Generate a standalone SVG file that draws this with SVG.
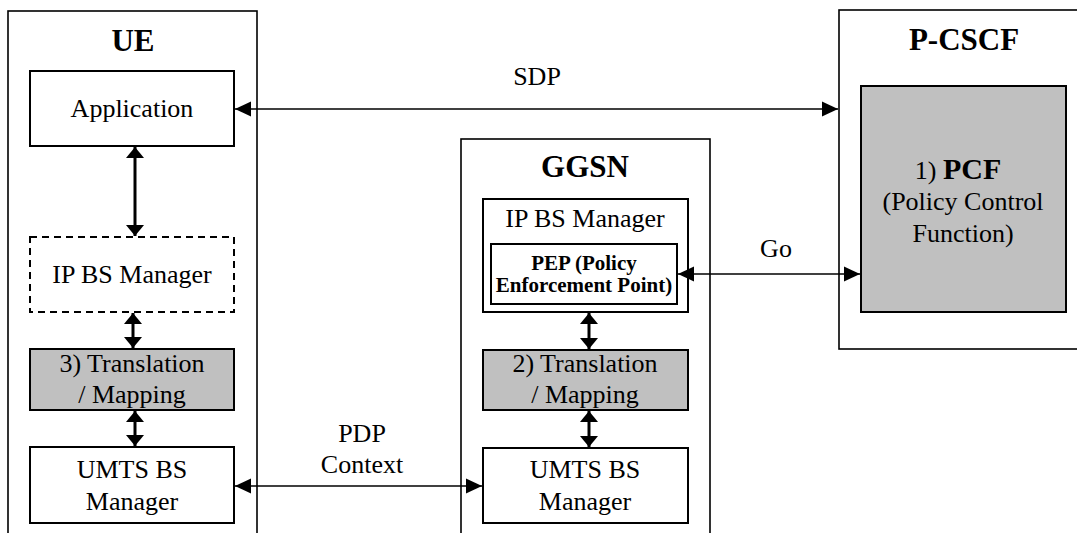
<svg xmlns="http://www.w3.org/2000/svg" width="1077" height="533" viewBox="0 0 1077 533">
<style>
.box{fill:#fff;stroke:#000;stroke-width:2}
.outer{fill:#fff;stroke:#000;stroke-width:1.6}
.gray{fill:#c0c0c0;stroke:#000;stroke-width:2}
.dash{fill:#fff;stroke:#000;stroke-width:2;stroke-dasharray:7,5}
text{font-family:'Liberation Serif','Times New Roman',serif;fill:#000;text-anchor:middle}
.t{font-size:26px}
.title{font-size:31px;font-weight:bold}
.pep{font-size:21px;font-weight:bold}
.thin{stroke:#000;stroke-width:1.6;fill:none;marker-start:url(#ah);marker-end:url(#ah)}
.thick{stroke:#000;stroke-width:3;fill:none;marker-start:url(#ahb);marker-end:url(#ahb)}
</style>
<defs>
<marker id="ah" markerUnits="userSpaceOnUse" viewBox="0 0 16 16" markerWidth="16" markerHeight="16" refX="16" refY="8" orient="auto-start-reverse"><path d="M0,0.5 L16,8 L0,15.5 z" fill="#000"/></marker>
<marker id="ahb" markerUnits="userSpaceOnUse" viewBox="0 0 11 18" markerWidth="11" markerHeight="18" refX="11" refY="9" orient="auto-start-reverse"><path d="M0,0 L11,9 L0,18 z" fill="#000"/></marker>
</defs>

<g id="ue">
<rect class="outer" x="8" y="11" width="249" height="540"/>
<text class="title" x="133" y="51">UE</text>
</g>
<g id="ue-application">
<rect class="box" x="30" y="71" width="204" height="75"/>
<text class="t" x="132" y="117">Application</text>
</g>
<g id="ue-ipbs">
<rect class="dash" x="30" y="237" width="204" height="75"/>
<text class="t" x="132" y="283">IP BS Manager</text>
</g>
<g id="ue-translation">
<rect class="gray" x="30" y="349" width="204" height="61"/>
<text class="t" x="132" y="372">3) Translation</text>
<text class="t" x="132" y="403">/ Mapping</text>
</g>
<g id="ue-umts">
<rect class="box" x="30" y="447" width="204" height="76"/>
<text class="t" x="132" y="478">UMTS BS</text>
<text class="t" x="132" y="510">Manager</text>
</g>

<g id="ggsn">
<rect class="outer" x="461" y="139" width="249" height="410"/>
<text class="title" x="585" y="177">GGSN</text>
</g>
<g id="ggsn-ipbs">
<rect class="box" x="483" y="199" width="205" height="113"/>
<text class="t" x="585" y="227">IP BS Manager</text>
</g>
<g id="ggsn-pep">
<rect class="box" x="491" y="244" width="186" height="60"/>
<text class="pep" x="584" y="270">PEP (Policy</text>
<text class="pep" x="584" y="292">Enforcement Point)</text>
</g>
<g id="ggsn-translation">
<rect class="gray" x="483" y="350" width="205" height="60"/>
<text class="t" x="585" y="372">2) Translation</text>
<text class="t" x="585" y="403">/ Mapping</text>
</g>
<g id="ggsn-umts">
<rect class="box" x="483" y="448" width="205" height="75"/>
<text class="t" x="585" y="478">UMTS BS</text>
<text class="t" x="585" y="510">Manager</text>
</g>

<g id="pcscf">
<rect class="outer" x="839" y="10" width="250" height="339"/>
<text class="title" x="964" y="50">P-CSCF</text>
</g>
<g id="pcf">
<rect class="gray" x="861" y="86" width="205" height="226"/>
<text class="t" x="958" y="179"><tspan>1) </tspan><tspan font-weight="bold" font-size="30">PCF</tspan></text>
<text class="t" x="963" y="210">(Policy Control</text>
<text class="t" x="963" y="242">Function)</text>
</g>

<g id="connectors">
<line class="thin" x1="235" y1="109" x2="838" y2="109"/>
<text class="t" x="537" y="85">SDP</text>
<line class="thin" x1="678" y1="274" x2="860" y2="274"/>
<text class="t" x="776" y="257">Go</text>
<line class="thin" x1="235" y1="486" x2="482" y2="486"/>
<text class="t" x="362" y="442">PDP</text>
<text class="t" x="362" y="473">Context</text>
<line class="thick" x1="135" y1="147" x2="135" y2="236"/>
<line class="thick" x1="133" y1="313" x2="133" y2="348"/>
<line class="thick" x1="135" y1="411" x2="135" y2="446"/>
<line class="thick" x1="589" y1="313" x2="589" y2="349"/>
<line class="thick" x1="589" y1="411" x2="589" y2="447"/>
</g>
</svg>
